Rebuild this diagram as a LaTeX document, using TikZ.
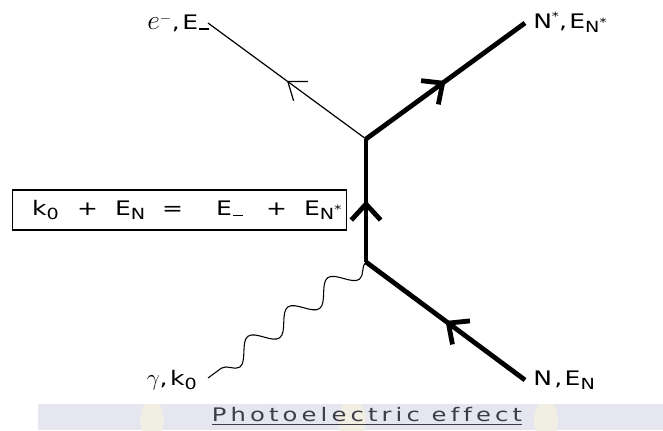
\documentclass[tikz,border=0pt]{standalone}
\usepackage{fontspec}
\setmainfont{DejaVu Sans}[LetterSpace=12, FakeStretch=1.25, Ligatures=NoCommon]
\newfontfamily\capfont{DejaVu Sans}[LetterSpace=22, FakeStretch=1.3, Ligatures=NoCommon]
\usetikzlibrary{positioning, arrows.meta, decorations.markings, decorations.pathmorphing}

\definecolor{bandgray}{RGB}{230,230,240}
\definecolor{blobyellow}{RGB}{241,238,228}
\definecolor{captext}{RGB}{60,60,70}

\newcommand{\sbs}[1]{\raisebox{-0.4ex}{\fontsize{11.5}{11.5}\selectfont #1}}
\newcommand{\sps}[1]{\raisebox{0.7ex}{\fontsize{8.5}{8.5}\selectfont #1}}
\newcommand{\lowdash}{\hspace{1pt}\rule[-0.5pt]{7pt}{1.1pt}}

\begin{document}
\begin{tikzpicture}[
    x=0.75pt, y=-0.75pt,
    midarrow/.style={postaction={decorate},
        decoration={markings, mark=at position 0.5 with {\arrow{#1}}}},
    nucleon/.style={line width=3.6pt,
        midarrow={Straight Barb[length=12pt, width=22pt]}},
    electron/.style={line width=0.9pt,
        midarrow={Straight Barb[length=12pt, width=18pt]}},
    photon/.style={line width=0.8pt, decorate,
        decoration={snake, amplitude=7.5pt, segment length=37.1pt}},
    lbl/.style={font=\fontsize{15}{15}\selectfont, inner sep=0pt}
]
\useasboundingbox (0,0) rectangle (663,430);

% caption band
\begin{scope}
    \clip (38,404) rectangle (663,430);
    \fill[bandgray] (38,404) rectangle (663,430);
    \fill[blobyellow] (152,420) ellipse (12 and 20);
    \fill[blobyellow] (352,420) ellipse (14 and 20);
    \fill[blobyellow] (546,420) ellipse (12 and 20);
\end{scope}

% vertices and free ends
\coordinate (vtop) at (366,139);
\coordinate (vbot) at (366,262);
\coordinate (eend) at (208,23);
\coordinate (nsend) at (525,23);
\coordinate (nend) at (525,380);
\coordinate (gend) at (208,378);

% lines
\draw[nucleon] (nend) -- (vbot);
\draw[nucleon] (vbot) -- (vtop);
\draw[nucleon] (vtop) -- (nsend);
\draw[electron] (vtop) -- (eend);
\draw[photon] (vbot) -- (gend);

% labels
\node[lbl, anchor=base east] (elabel) at (209,29)
    {{\fontsize{20}{20}\selectfont$e$}$^{-}$,E\lowdash};
\node[lbl, anchor=base west] (nslabel) at (533,28) {N\sps{*},E\sbs{N\sps{*}}};
\node[lbl, anchor=base west] (nlabel) at (533,385) {N,E\sbs{N}};
\node[lbl, anchor=base east] (glabel) at (197,385)
    {{\fontsize{19}{19}\selectfont$\gamma$},k\sbs{0}};

% energy balance
\node[draw, line width=0.8pt, font=\fontsize{15}{15}\selectfont,
    text width=221pt, align=left, inner xsep=15pt,
    minimum height=30pt] (balance) at (179.5,210)
    {\makebox[33.75pt][l]{k\sbs{0}}\makebox[28.5pt][l]{+}%
     \makebox[35.25pt][l]{E\sbs{N}}\makebox[40.5pt][l]{=}%
     \makebox[37.5pt][l]{E\lowdash}\makebox[28.5pt][l]{+}E\sbs{N\sps{*}}};

\node[font=\capfont\fontsize{14}{14}\selectfont, text=captext, inner sep=0pt]
    (caption) at (367,416) {\underline{Photoelectric effect}};

\end{tikzpicture}
\end{document}
